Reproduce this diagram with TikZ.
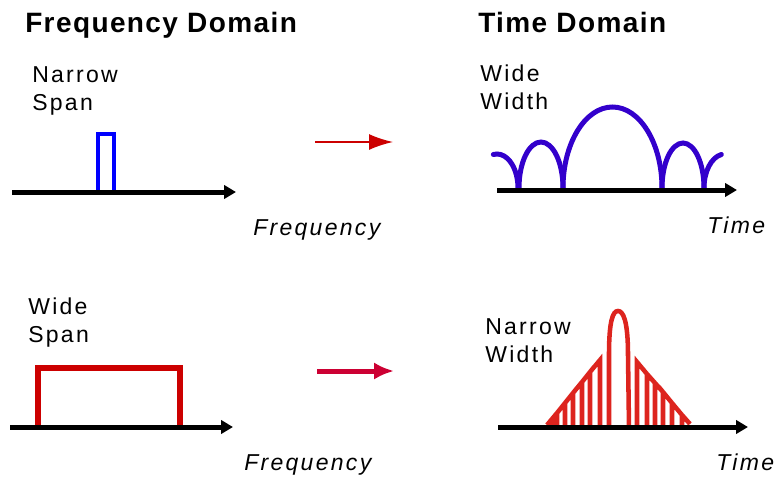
\documentclass[tikz,border=0pt]{standalone}
\usepackage{fontspec}
\setmainfont{Liberation Sans}
\newfontfamily\lblfont[LetterSpace=10]{Liberation Sans}
\newfontfamily\ttlfont[LetterSpace=5]{Liberation Sans}
\usetikzlibrary{arrows.meta}
\definecolor{pulseblue}{RGB}{0,0,255}
\definecolor{arcblue}{RGB}{51,0,204}
\definecolor{rectred}{RGB}{204,0,0}
\definecolor{sigred}{RGB}{221,36,30}
\definecolor{arrred}{RGB}{204,0,51}
\begin{document}
\begin{tikzpicture}[x=0.75pt,y=-0.75pt,
  axis/.style={line width=3.75pt,-{Triangle[length=9pt,width=10pt]}},
  lbl/.style={inner sep=0pt,font=\lblfont\fontsize{17.25}{21}\selectfont,align=left,anchor=north west},
  ttl/.style={inner sep=0pt,font=\ttlfont\bfseries\fontsize{21}{25}\selectfont,anchor=base west},
  axlbl/.style={inner sep=0pt,font=\lblfont\itshape\fontsize{17.25}{21}\selectfont,anchor=base west},
  arcs/.style={line width=3.75pt,draw=arcblue,line cap=round},
  sig/.style={line width=3.4pt,draw=sigred,line join=miter}]
\useasboundingbox (0,0) rectangle (776,479);

% titles and labels
\node[ttl] (fdtitle) at (25,32) {Frequency Domain};
\node[ttl] (tdtitle) at (478,32) {Time Domain};
\node[lbl] (nspan) at (32,66) {Narrow\\Span};
\node[lbl] (wwidth) at (480,65) {Wide\\Width};
\node[axlbl] (freq1) at (253,235) {Frequency};
\node[axlbl] (time1) at (707,233) {Time};
\node[lbl] (wspan) at (28,298) {Wide\\Span};
\node[lbl] (nwidth) at (485,318) {Narrow\\Width};
\node[axlbl] (freq2) at (244,470) {Frequency};
\node[axlbl] (time2) at (716,470) {Time};

% top-left: narrow span
\coordinate (ax1s) at (12,192);
\coordinate (ax1e) at (236,192);
\draw[line width=3pt,draw=pulseblue] (98,192) -- (98,134) -- (114,134) -- (114,192);
\draw[axis] (ax1s) -- (ax1e);

% top arrow
\coordinate (ar1s) at (315,142);
\coordinate (ar1e) at (393,142);
\draw[draw=rectred,line width=1.2pt,-{Latex[length=18pt,width=12pt]}] (ar1s) -- (ar1e);

% top-right: wide width
\coordinate (ax2s) at (497,190);
\coordinate (ax2e) at (737,190);
\draw[arcs] (518,188) arc[start angle=0,end angle=-100,x radius=21,y radius=34];
\draw[arcs] (519,188) arc[start angle=180,end angle=360,x radius=22,y radius=46];
\draw[arcs] (563,188) arc[start angle=180,end angle=360,x radius=49.5,y radius=81];
\draw[arcs] (662,188) arc[start angle=180,end angle=360,x radius=21,y radius=45];
\draw[arcs] (704,188) arc[start angle=180,end angle=260,x radius=21,y radius=34];
\draw[axis] (ax2s) -- (ax2e);

% bottom-left: wide span
\coordinate (ax3s) at (10,427);
\coordinate (ax3e) at (233,427);
\draw[line width=4.5pt,draw=rectred] (38,427) -- (38,368) -- (180,368) -- (180,427);
\draw[axis] (ax3s) -- (ax3e);

% bottom arrow
\coordinate (ar2s) at (317,371);
\coordinate (ar2e) at (394,371);
\draw[draw=arrred,line width=3.75pt,-{Latex[length=15pt,width=13pt]}] (ar2s) -- (ar2e);

% bottom-right: narrow width
\coordinate (ax4s) at (498,427);
\coordinate (ax4e) at (748,427);
\draw[sig] (547,425) -- (552,419) -- (552,427) -- (552,419) -- (557,413) -- (557,427) -- (557,413)
  -- (565,403) -- (565,427) -- (565,403) -- (573,393) -- (573,427) -- (573,393)
  -- (582,382) -- (582,427) -- (582,382) -- (590,372) -- (590,427) -- (590,372)
  -- (600,360) -- (600,427);
\draw[sig] (609,427) -- (609,355) .. controls (609,320) and (613,311) .. (618,311)
  .. controls (623,311) and (628,320) .. (628,355) -- (629,427);
\draw[sig] (637,427) -- (637,362) -- (647,374) -- (647,427) -- (647,374) -- (655,383) -- (655,427) -- (655,383)
  -- (663,392) -- (663,427) -- (663,392) -- (672,403) -- (672,427) -- (672,403)
  -- (682,415) -- (682,427) -- (682,415) -- (690,424);
\draw[axis] (ax4s) -- (ax4e);
\end{tikzpicture}
\end{document}
